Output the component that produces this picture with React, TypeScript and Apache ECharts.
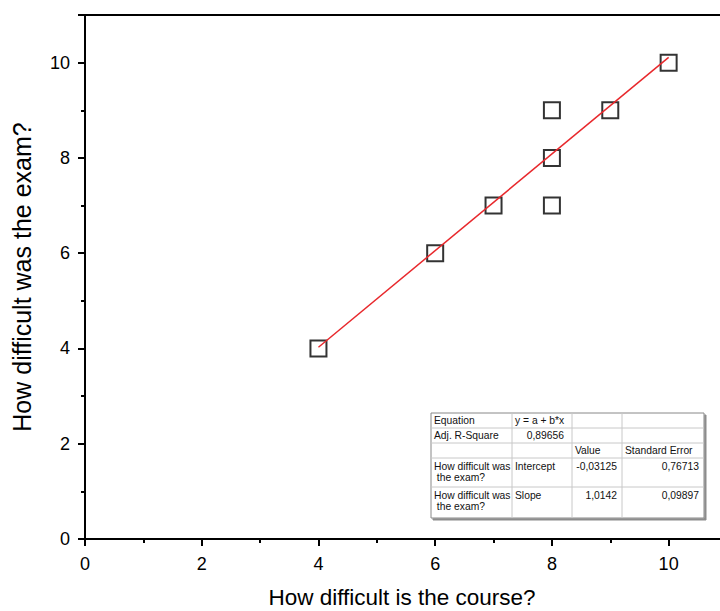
import React, { useEffect, useRef } from "react";
import * as echarts from "echarts";

const courseValues = [4, 6, 7, 8, 8, 8, 9, 10];
const examValues = [4, 6, 7, 7, 8, 9, 9, 10];
const fitIntercept = -0.03125;
const fitSlope = 1.0142;
const fitRange = [4, 10];
const xTicks = [0, 2, 4, 6, 8, 10];
const yTicks = [0, 2, 4, 6, 8, 10];
const xTitle = "How difficult is the course?";
const yTitle = "How difficult was the exam?";
const tableRows = [
  ["Equation", "y = a + b*x", "", ""],
  ["Adj. R-Square", "0,89656", "", ""],
  ["", "", "Value", "Standard Error"],
  ["How difficult was\n the exam?", "Intercept", "-0,03125", "0,76713"],
  ["How difficult was\n the exam?", "Slope", "1,0142", "0,09897"],
];

const FONT = "'Liberation Sans', Arial, sans-serif";

export default function App() {
  const ref = useRef<HTMLDivElement>(null);
  useEffect(() => {
    const chart = echarts.init(ref.current!, null, { renderer: "svg" });
    const points = courseValues.map((x, i) => [x, examValues[i]]);
    const fit = fitRange.map((x) => [x, fitIntercept + fitSlope * x]);

    // table geometry
    const colX = [431, 512, 572, 622, 704];
    const rowY = [413, 428, 443, 458, 487, 518];
    const tEls: any[] = [];
    tEls.push({
      type: "rect",
      shape: { x: colX[0], y: rowY[0], width: colX[4] - colX[0], height: rowY[5] - rowY[0] },
      style: { fill: "#fff", stroke: "#888", lineWidth: 1, shadowColor: "rgba(0,0,0,0.45)", shadowOffsetX: 2, shadowOffsetY: 2, shadowBlur: 1 },
    });
    for (let i = 1; i < colX.length - 1; i++) {
      tEls.push({ type: "line", shape: { x1: colX[i], y1: rowY[0], x2: colX[i], y2: rowY[5] }, style: { stroke: "#c8c8c8", lineWidth: 1 } });
    }
    for (let j = 1; j < rowY.length - 1; j++) {
      tEls.push({ type: "line", shape: { x1: colX[0], y1: rowY[j], x2: colX[4], y2: rowY[j] }, style: { stroke: "#c8c8c8", lineWidth: 1 } });
    }
    const rightAlign = (r: number, c: number) => (r === 1 && c === 1) || (r >= 3 && c >= 2);
    tableRows.forEach((row, r) => {
      row.forEach((txt, c) => {
        if (!txt) return;
        const ra = rightAlign(r, c);
        const multi = r >= 3;
        tEls.push({
          type: "text",
          x: ra ? colX[c + 1] - (c === 1 ? 8 : 5) : colX[c] + 3,
          y: multi ? rowY[r] + 3 : (rowY[r] + rowY[r + 1]) / 2,
          style: {
            text: txt,
            fill: "#111",
            font: `10.3px ${FONT}`,
            align: ra ? "right" : "left",
            verticalAlign: multi ? "top" : "middle",
            lineHeight: 11,
          },
        });
      });
    });

    const axisCommon = {
      type: "value",
      min: 0,
      max: 11,
      interval: 2,
      splitLine: { show: false },
      axisLine: { onZero: false, lineStyle: { color: "#000", width: 2 } },
      axisTick: { show: true, length: 7, lineStyle: { color: "#000", width: 2 } },
      minorTick: { show: true, splitNumber: 2, length: 4, lineStyle: { color: "#000", width: 2 } },
    };

    chart.setOption({
      animation: false,
      backgroundColor: "#fff",
      grid: {
        left: 85,
        top: 15,
        right: -7,
        bottom: 72,
        show: true,
        borderColor: "#000",
        borderWidth: 2,
        outerBoundsMode: "none",
      },
      xAxis: {
        ...axisCommon,
        axisLabel: {
          margin: 16,
          color: "#000",
          fontSize: 18,
          fontFamily: FONT,
          formatter: (v: number) => (xTicks.includes(v) ? String(v) : ""),
        },
      },
      yAxis: {
        ...axisCommon,
        axisLabel: {
          margin: 15,
          color: "#000",
          fontSize: 18,
          fontFamily: FONT,
          formatter: (v: number) => (yTicks.includes(v) ? String(v) : ""),
        },
      },
      series: [
        {
          type: "line",
          data: fit,
          showSymbol: false,
          symbol: "none",
          lineStyle: { color: "#e8282c", width: 1.5 },
          z: 3,
        },
        {
          type: "scatter",
          data: points,
          symbol: "rect",
          symbolSize: 16,
          itemStyle: { color: "rgba(255,255,255,0)", borderColor: "#000", borderWidth: 2 },
          z: 2,
        },
      ],
      graphic: [
        {
          type: "text",
          x: 402,
          y: 597,
          style: { text: xTitle, fill: "#000", font: `22.5px ${FONT}`, align: "center", verticalAlign: "middle" },
        },
        {
          type: "text",
          x: 22,
          y: 277,
          rotation: Math.PI / 2,
          style: { text: yTitle, fill: "#000", font: `25px ${FONT}`, align: "center", verticalAlign: "middle" },
        },
        { type: "group", children: tEls, z: 100 },
      ],
    });
    return () => chart.dispose();
  }, []);
  return <div ref={ref} style={{ width: 720, height: 611, position: "absolute", left: 0, top: 0 }} />;
}
